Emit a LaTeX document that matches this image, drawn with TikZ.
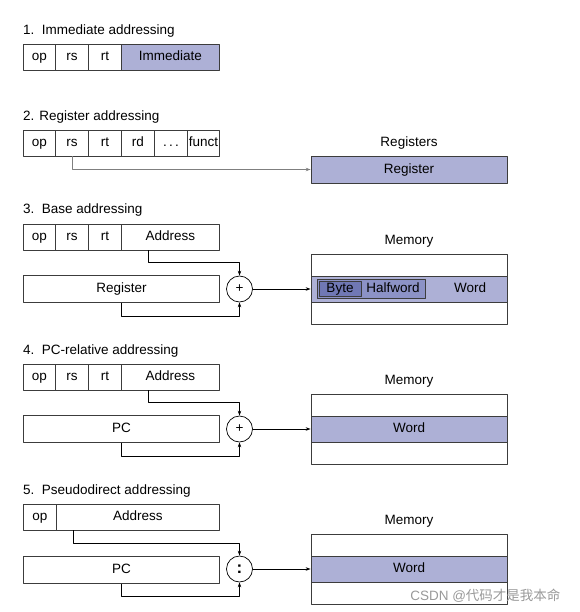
\documentclass[tikz,border=0pt]{standalone}
\usepackage{fontspec}
\setmainfont{Liberation Sans}
\newfontfamily\cjkfont{Noto Sans CJK SC}
\usetikzlibrary{arrows.meta}
\definecolor{lav}{HTML}{ADB0D6}
\definecolor{lavmid}{HTML}{8C92C6}
\definecolor{lavdark}{HTML}{7078B4}
\definecolor{edge}{HTML}{3C3C3C}
\definecolor{wire}{HTML}{7F7F7F}

\begin{document}
\begin{tikzpicture}[x=1pt, y=-1pt, font=\fontsize{13.5}{16}\selectfont, line join=round,
    >={Stealth[length=5pt, width=3.5pt]},
    txt/.style={text height=10pt, text depth=2.6pt},
    fld/.style={txt, draw=edge, line width=0.8pt, minimum height=26, inner sep=0pt, anchor=west},
    title/.style={txt, anchor=west, inner sep=0pt},
    adder/.style={draw, line width=0.7pt, circle, minimum size=26, inner sep=0pt},
    memrow/.style={txt, draw=edge, line width=0.8pt, minimum width=196, inner sep=0pt},
    link/.style={line width=0.7pt, ->}]
    \useasboundingbox (0,0) rectangle (579,612);
    % titles
    \node[title] (t1) at (23,31) {1.\ \ Immediate addressing};
    \node[title] (t2) at (23,117) {2. Register addressing};
    \node[title] (t3) at (23,210) {3.\ \ Base addressing};
    \node[title] (t4) at (23,351) {4.\ \ PC-relative addressing};
    \node[title] (t5) at (23,491) {5.\ \ Pseudodirect addressing};
    % instruction fields
    \foreach \r/\y in {1/57, 2/143, 3/237, 4/377}{
        \node[fld, minimum width=32] (op\r) at (23,\y) {op};
        \node[fld, minimum width=33] (rs\r) at (55,\y) {rs};
        \node[fld, minimum width=33] (rt\r) at (88,\y) {rt};
    }
    \node[fld, fill=lav, minimum width=98] (imm1) at (121,57) {Immediate};
    \node[fld, minimum width=33] (rd2) at (121,143) {rd};
    \node[fld, minimum width=33] (dots2) at (154,143) {.\,.\,.};
    \node[fld, minimum width=32] (funct2) at (187,143) {funct};
    \node[fld, minimum width=98] (addr3) at (121,237) {Address};
    \node[fld, minimum width=98] (addr4) at (121,377) {Address};
    \node[fld, minimum width=33] (op5) at (23,517) {op};
    \node[fld, minimum width=163] (addr5) at (56,517) {Address};
    % base registers
    \node[fld, minimum width=196, minimum height=27] (reg3) at (23,289) {Register};
    \node[fld, minimum width=196, minimum height=27] (pc4) at (23,429) {PC};
    \node[fld, minimum width=196, minimum height=27] (pc5) at (23,570) {PC};
    % adders
    \node[adder] (sum3) at (239.5,289) {+};
    \node[adder] (sum4) at (239.5,429) {+};
    \node[adder] (sum5) at (239.5,569) {\fontsize{17}{17}\selectfont\bfseries :};
    % register file
    \node[txt] (reglabel) at (409,143) {Registers};
    \node[memrow, fill=lav, minimum height=27] (regfile) at (409,169.5) {Register};
    % memories
    \foreach \s/\y in {3/289, 4/429, 5/569}{
        \node[txt] (memlabel\s) at (409,\y-48) {Memory};
        \node[memrow, minimum height=22] (top\s) at (409,\y-24) {};
        \node[memrow, minimum height=22] (bot\s) at (409,\y+24) {};
        \node[memrow, fill=lav, minimum height=26] (word\s) at (409,\y) {};
    }
    \node[txt, draw=edge, fill=lavmid, line width=0.8pt, minimum width=108, minimum height=19, inner sep=0pt] (half3) at (371,289) {};
    \node[txt, draw=edge, fill=lavdark, line width=0.8pt, minimum width=42, minimum height=15, inner sep=0pt] (byte3) at (340,289) {Byte};
    \node[txt] (halftxt3) at (393,289) {Halfword};
    \node[txt] (wordtxt3) at (470,289) {Word};
    \node[txt] (wordtxt4) at (word4) {Word};
    \node[txt] (wordtxt5) at (word5) {Word};
    % connectors
    \draw[link, wire] (rs2.south) |- (regfile.west);
    \foreach \s/\b in {3/reg3, 4/pc4}{
        \draw[link] ([xshift=-22pt]addr\s.south) -- ++(0,12) -| (sum\s.north);
        \draw[link] (\b.south) -- ++(0,13) -| (sum\s.south);
        \draw[link] (sum\s.east) -- (word\s.west);
    }
    \draw[link] ([xshift=-64.5pt]addr5.south) -- ++(0,13) -| (sum5.north);
    \draw[link] (pc5.south) -- ++(0,12) -| (sum5.south);
    \draw[link] (sum5.east) -- (word5.west);
    % watermark
    \node[anchor=east, text=black!40] (mark) at (564,596) {CSDN @\cjkfont 代码才是我本命};
\end{tikzpicture}
\end{document}
